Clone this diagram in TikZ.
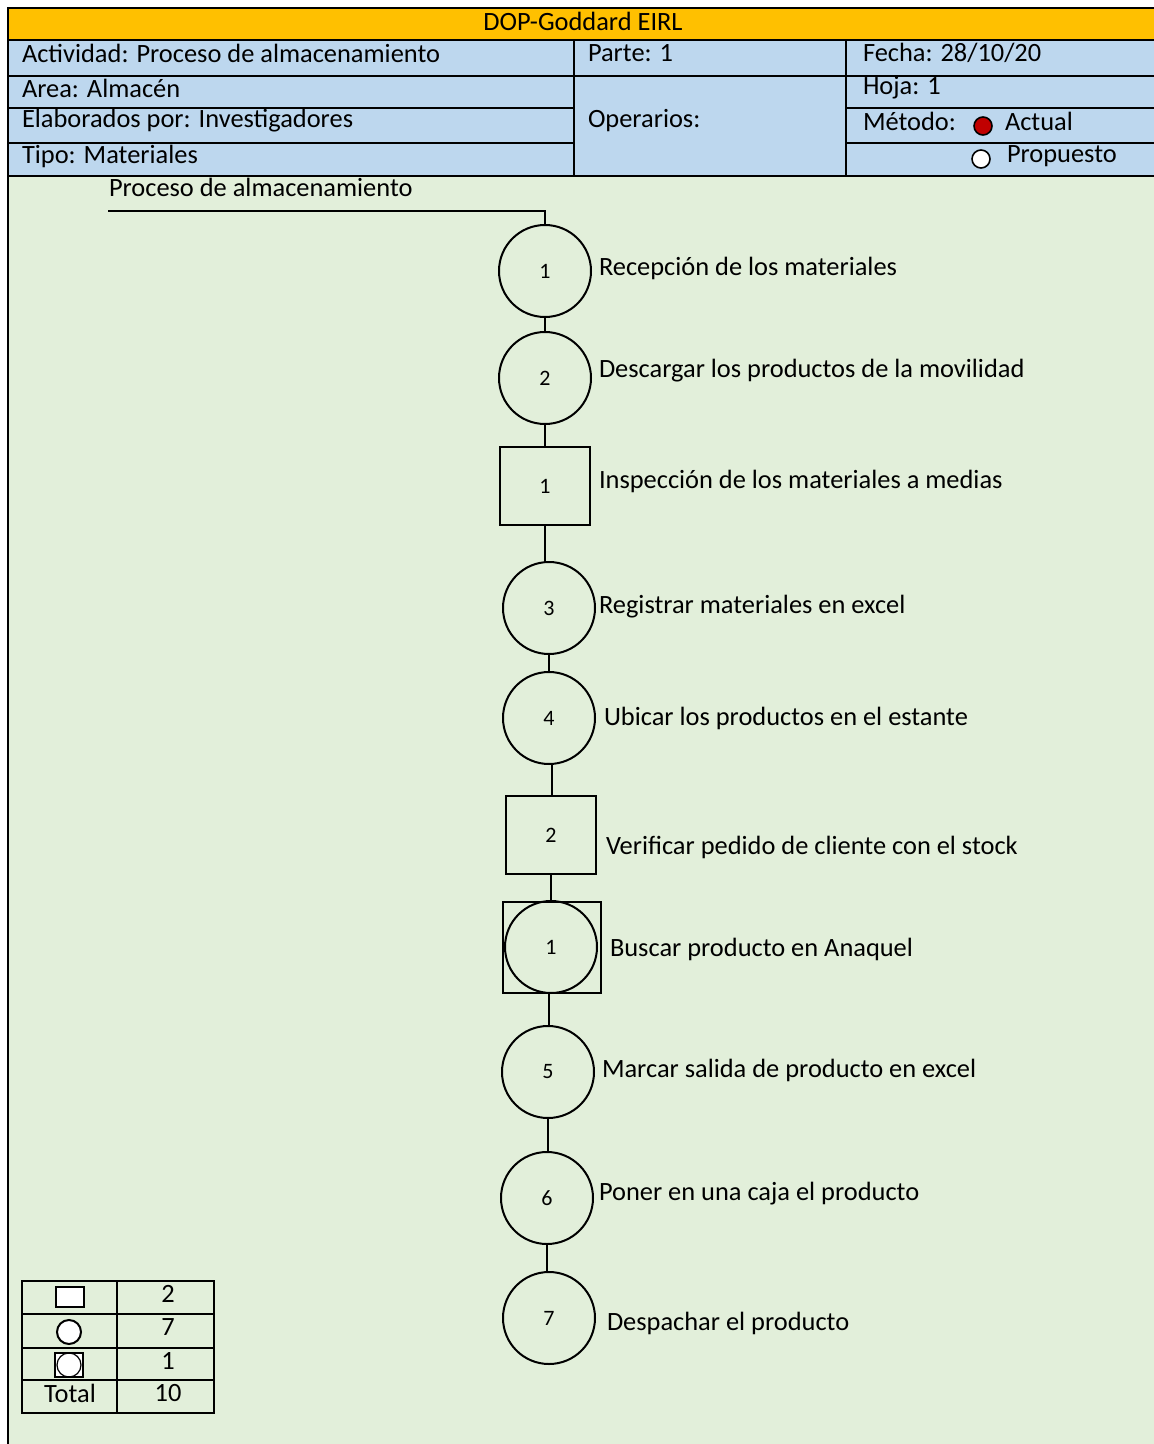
\documentclass[tikz,border=0pt]{standalone}
\usepackage{fontspec}
\setmainfont{Carlito}
\definecolor{titulo}{HTML}{FFC000}
\definecolor{cabecera}{HTML}{BDD7EE}
\definecolor{fondo}{HTML}{E2EFDA}
\definecolor{rojo}{HTML}{C00000}

\begin{document}
\begin{tikzpicture}[
  x=0.5pt, y=-0.5pt, line width=1pt,
  every node/.style={font=\fontsize{13.2}{15}\selectfont},
  txt/.style={anchor=west,inner sep=0pt},
  op/.style={circle,draw,fill=fondo,minimum size=46pt,inner sep=0pt,font=\fontsize{11}{13}\selectfont},
  insp/.style={rectangle,draw,fill=fondo,minimum width=45pt,minimum height=39pt,inner sep=0pt,font=\fontsize{11}{13}\selectfont},
  comb/.style={rectangle,draw,minimum width=49pt,minimum height=45.5pt,inner sep=0pt},
  marca/.style={circle,draw,line width=0.8pt,minimum size=9pt,inner sep=0pt}
]
  \useasboundingbox (0,0) rectangle (1153,1444);
  % fondo y cabecera
  \fill[white] (0,0) rectangle (1153,1444);
  \fill[fondo] (8,176) rectangle (1160,1450);
  \draw (8,176) -- (8,1450);
  \filldraw[fill=titulo] (8,8) rectangle (1160,40);
  \filldraw[fill=cabecera] (8,40) rectangle (1160,176);
  \draw (8,76) -- (1160,76);
  \draw (8,108) -- (574,108) (846,108) -- (1160,108);
  \draw (8,143) -- (574,143) (846,143) -- (1160,143);
  \draw (574,40) -- (574,176) (846,40) -- (846,176);

  \node[inner sep=0pt] (tit) at (583,21) {DOP-Goddard EIRL};
  \node[txt] (act) at (21,53) {Actividad: Proceso de almacenamiento};
  \node[txt] (area) at (21,88) {Area: Almacén};
  \node[txt] (elab) at (21,121) {Elaborados por: Investigadores};
  \node[txt] (tipo) at (21,156) {Tipo: Materiales};
  \node[txt] (parte) at (587,53) {Parte: 1};
  \node[txt] (oper) at (587,121) {Operarios:};
  \node[txt] (fecha) at (862,53) {Fecha: 28/10/20};
  \node[txt] (hoja) at (862,88) {Hoja: 1};
  \node[txt] (met) at (862,121) {Método:};
  \node[marca,fill=rojo] (m1) at (983,126) {};
  \node[txt] (actual) at (1004,121) {Actual};
  \node[marca,fill=white] (m2) at (981,159) {};
  \node[txt] (prop) at (1006,156) {Propuesto};

  % diagrama
  \node[txt] (proc) at (108,187) {Proceso de almacenamiento};
  \coordinate (ini) at (108,211);
  \node[op] (o1) at (545,271) {1};
  \node[op] (o2) at (545,378) {2};
  \node[insp] (i1) at (545,486) {1};
  \node[op] (o3) at (549,608) {3};
  \node[op] (o4) at (549,718) {4};
  \node[insp] (i2) at (551,835) {2};
  \node[comb] (c1) at (552,947) {};
  \node[op,fill=none] (c1c) at (551,947) {1};
  \node[op] (o5) at (548,1072) {5};
  \node[op] (o6) at (547,1198) {6};
  \node[op] (o7) at (549,1318) {7};

  \draw (ini) -| (o1.north);
  \draw (o1.south) -- (o1.south |- o2.north);
  \draw (o2.south) -- (o2.south |- i1.north);
  \draw (i1.south) -- (i1.south |- o3.north);
  \draw (o3.south) -- (o3.south |- o4.north);
  \draw ([xshift=1.5pt]o4.south) -- ([xshift=1.5pt]o4.south |- i2.north);
  \draw (i2.south) -- (i2.south |- c1.north);
  \draw ([xshift=-1.5pt]c1.south) -- ([xshift=-1.5pt]c1.south |- o5.north);
  \draw (o5.south) -- (o5.south |- o6.north);
  \draw (o6.south) -- (o6.south |- o7.north);

  \node[txt] (t1) at (598,268) {Recepción de los materiales};
  \node[txt] (t2) at (598,371) {Descargar los productos de la movilidad};
  \node[txt] (t3) at (598,481) {Inspección de los materiales a medias};
  \node[txt] (t4) at (598,607) {Registrar materiales en excel};
  \node[txt] (t5) at (603,718) {Ubicar los productos en el estante};
  \node[txt] (t6) at (605,847) {Verificar pedido de cliente con el stock};
  \node[txt] (t7) at (609,949) {Buscar producto en Anaquel};
  \node[txt] (t8) at (601,1070) {Marcar salida de producto en excel};
  \node[txt] (t9) at (598,1194) {Poner en una caja el producto};
  \node[txt] (t10) at (606,1323) {Despachar el producto};

  % resumen
  \draw (22,1281) rectangle (214,1413);
  \draw (117,1281) -- (117,1413);
  \foreach \y in {1314,1348,1380} \draw (22,\y) -- (214,\y);
  \node[rectangle,draw,fill=white,minimum width=14pt,minimum height=10pt,inner sep=0pt] (r1) at (70,1297) {};
  \node[circle,draw,fill=white,minimum size=12pt,inner sep=0pt] (r2) at (69,1332) {};
  \node[rectangle,draw,fill=white,minimum width=14pt,minimum height=12pt,inner sep=0pt] (r3) at (69,1365) {};
  \node[circle,draw,line width=0.6pt,minimum size=12pt,inner sep=0pt] (r3c) at (69,1365) {};
  \node[inner sep=0pt] (tot) at (70,1393) {Total};
  \node[inner sep=0pt] (n1) at (168,1294) {2};
  \node[inner sep=0pt] (n2) at (168,1327) {7};
  \node[inner sep=0pt] (n3) at (168,1361) {1};
  \node[inner sep=0pt] (n4) at (168,1393) {10};
\end{tikzpicture}
\end{document}
